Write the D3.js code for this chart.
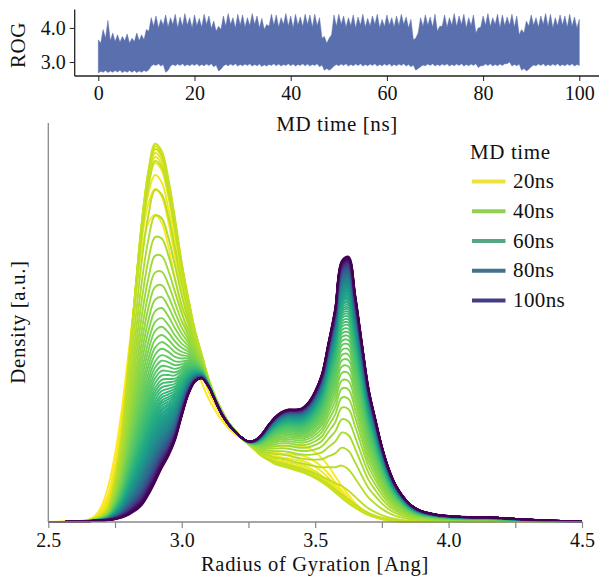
<!DOCTYPE html>
<html><head><meta charset="utf-8">
<script src="https://cdn.jsdelivr.net/npm/d3@7"></script>
<style>
body{margin:0;background:#fff}
svg{display:block}
</style>
</head><body>
<svg id="chart" width="599" height="576"></svg>
<script>
// ---------- top panel: ROG time series ----------
// per ns: spike tips (rogMax), top of the dense band half a ns later (rogCore), lower edge (rogMin)
const rogTimes = [0,1,2,3,4,5,6,7,8,9,10,11,12,13,14,15,16,17,18,19,20,21,22,23,24,25,26,27,28,29,30,31,32,33,34,35,36,37,38,39,40,41,42,43,44,45,46,47,48,49,50,51,52,53,54,55,56,57,58,59,60,61,62,63,64,65,66,67,68,69,70,71,72,73,74,75,76,77,78,79,80,81,82,83,84,85,86,87,88,89,90,91,92,93,94,95,96,97,98,99,100];
const rogMax = [3.65,3.95,4.22,3.85,3.80,3.75,3.82,3.70,3.85,3.80,3.95,4.30,4.35,4.25,4.38,4.30,4.40,4.32,4.42,4.30,4.38,4.28,4.40,4.35,4.20,4.05,4.35,4.42,4.30,4.40,4.38,4.30,4.42,4.35,4.28,4.10,4.40,4.38,4.30,4.42,4.35,4.40,4.32,4.40,4.38,4.40,4.30,3.75,3.70,4.38,4.40,4.35,4.30,4.38,4.32,4.40,4.28,4.35,4.40,4.25,4.38,4.30,4.35,4.40,4.32,4.25,3.70,4.30,4.38,4.32,4.40,4.05,4.38,4.30,4.42,4.35,4.40,4.30,4.38,4.00,4.35,4.42,4.30,4.40,4.38,4.32,4.40,4.35,3.95,4.20,4.38,4.30,4.35,4.42,4.40,4.30,4.38,4.35,4.40,4.32,4.25];
const rogCore = [3.55,3.70,3.62,3.60,3.58,3.62,3.55,3.60,3.62,3.65,3.90,4.05,4.00,4.08,4.02,4.10,4.00,4.05,4.08,4.00,4.06,4.02,4.10,3.98,3.90,3.95,4.05,4.10,4.00,4.08,4.02,4.06,4.10,4.00,3.95,4.05,4.08,4.02,4.10,4.05,4.00,4.08,4.04,4.10,4.02,4.06,3.70,3.55,3.80,4.05,4.10,4.02,4.06,4.00,4.08,4.02,4.05,4.10,4.00,4.04,4.08,4.02,4.06,4.10,4.00,3.65,3.85,4.04,4.08,4.02,3.90,4.05,4.02,4.08,4.04,4.10,4.00,4.06,3.85,4.02,4.08,4.04,4.10,4.00,4.06,4.08,4.02,3.80,3.85,4.05,4.08,4.02,4.10,4.04,4.00,4.06,4.08,4.02,4.05,4.00,4.10];
const rogMin = [2.68,2.70,2.69,2.70,2.71,2.69,2.70,2.70,2.69,2.70,2.72,2.88,2.90,2.88,2.70,2.88,2.89,2.90,2.88,2.89,2.90,2.88,2.89,2.90,2.86,2.74,2.88,2.89,2.90,2.88,2.89,2.90,2.88,2.89,2.87,2.88,2.90,2.89,2.88,2.90,2.89,2.88,2.90,2.89,2.88,2.90,2.86,2.76,2.76,2.88,2.89,2.90,2.88,2.89,2.90,2.88,2.89,2.90,2.88,2.89,2.90,2.88,2.89,2.90,2.88,2.86,2.76,2.86,2.89,2.90,2.88,2.89,2.90,2.88,2.89,2.90,2.88,2.89,2.90,2.84,2.89,2.90,2.88,2.89,2.90,2.95,2.88,2.89,2.76,2.74,2.86,2.89,2.90,2.88,2.89,2.90,2.88,2.89,2.90,2.88,2.90];
const timeTicks = [0,20,40,60,80,100];
const rogTicks = [3.0,4.0];

// ---------- bottom panel: cumulative density curves ----------
const rogGrid = [2.50,2.55,2.60,2.625,2.65,2.675,2.70,2.725,2.75,2.775,2.80,2.825,2.85,2.875,2.90,2.925,2.95,2.975,3.00,3.025,3.05,3.075,3.10,3.125,3.15,3.175,3.20,3.225,3.25,3.275,3.30,3.325,3.35,3.375,3.40,3.425,3.45,3.475,3.50,3.525,3.55,3.575,3.60,3.625,3.65,3.675,3.70,3.725,3.75,3.775,3.80,3.825,3.85,3.875,3.90,3.95,4.00,4.05,4.10,4.15,4.20,4.30,4.40,4.50];
// density curve after 1 ns
const densityFirst = [0,0.001,0.002,0.003,0.006,0.015,0.04,0.09,0.17,0.28,0.42,0.56,0.68,0.75,0.77,0.75,0.69,0.61,0.53,0.46,0.40,0.35,0.31,0.28,0.255,0.235,0.22,0.21,0.20,0.195,0.19,0.19,0.19,0.19,0.19,0.19,0.19,0.185,0.175,0.16,0.14,0.115,0.09,0.068,0.048,0.032,0.02,0.012,0.007,0.004,0.002,0.001,0,0,0,0,0,0,0,0,0,0,0,0];
// density curve with the tallest first mode (9 ns)
const densityPeak = [0,0,0.001,0.002,0.004,0.008,0.015,0.035,0.10,0.21,0.38,0.57,0.75,0.88,0.948,0.93,0.86,0.76,0.65,0.56,0.48,0.42,0.36,0.315,0.28,0.25,0.23,0.21,0.195,0.18,0.165,0.155,0.145,0.14,0.135,0.13,0.125,0.118,0.11,0.10,0.088,0.074,0.06,0.047,0.036,0.026,0.018,0.012,0.008,0.005,0.003,0.002,0.001,0,0,0,0,0,0,0,0,0,0,0];
// density curve after 100 ns
const densityLast = [0,0,0.001,0.001,0.002,0.003,0.004,0.005,0.007,0.011,0.018,0.028,0.042,0.068,0.10,0.135,0.165,0.205,0.265,0.32,0.352,0.36,0.34,0.305,0.27,0.245,0.226,0.211,0.202,0.205,0.22,0.243,0.263,0.276,0.282,0.282,0.285,0.30,0.328,0.37,0.45,0.535,0.655,0.665,0.57,0.45,0.335,0.26,0.19,0.135,0.095,0.068,0.048,0.035,0.027,0.019,0.015,0.013,0.012,0.012,0.010,0.006,0.003,0.001];
const curveTimes = [1,2,3,4,5,6,7,8,9,10,11,12,13,14,15,16,17,18,19,20,21,22,23,24,25,26,27,28,29,30,31,32,33,34,35,36,37,38,39,40,41,42,43,44,45,46,47,48,49,50,51,52,53,54,55,56,57,58,59,60,61,62,63,64,65,66,67,68,69,70,71,72,73,74,75,76,77,78,79,80,81,82,83,84,85,86,87,88,89,90,91,92,93,94,95,96,97,98,99,100];
// density at ROG = 2.9 for each curve
const modeHeights = [0.77,0.835,0.87,0.90,0.915,0.925,0.935,0.942,0.948,0.935,0.905,0.832,0.768,0.714,0.667,0.625,0.589,0.557,0.528,0.501,0.478,0.456,0.437,0.419,0.402,0.387,0.373,0.360,0.348,0.336,0.326,0.316,0.306,0.297,0.289,0.281,0.274,0.267,0.260,0.254,0.247,0.242,0.236,0.231,0.226,0.221,0.217,0.212,0.208,0.204,0.200,0.196,0.193,0.189,0.186,0.183,0.180,0.177,0.174,0.171,0.168,0.166,0.163,0.161,0.158,0.156,0.154,0.151,0.149,0.147,0.145,0.143,0.141,0.140,0.138,0.136,0.134,0.133,0.131,0.130,0.128,0.127,0.125,0.124,0.122,0.121,0.120,0.118,0.117,0.116,0.115,0.113,0.112,0.111,0.110,0.109,0.108,0.107,0.103,0.100];
const peakCurveTime = 9;
const xTicks = [2.5,2.75,3.0,3.25,3.5,3.75,4.0,4.25,4.5];
const xTickLabels = [2.5,3.0,3.5,4.0,4.5];
const legendLabels = ["20ns","40ns","60ns","80ns","100ns"];
const legendColors = ["#ebe33c","#92d050","#55a784","#42728b","#433d84"];

// pick the first serif face that is really installed
function pickFont(cands){
  const ctx = document.createElement("canvas").getContext("2d");
  const probe = "MD time Radius of Gyration 0123456789";
  ctx.font = "40px monospace"; const wm = ctx.measureText(probe).width;
  ctx.font = "40px sans-serif"; const ws = ctx.measureText(probe).width;
  for (const f of cands){
    ctx.font = `40px "${f}", monospace`; const a = ctx.measureText(probe).width;
    ctx.font = `40px "${f}", sans-serif`; const b = ctx.measureText(probe).width;
    if (Math.abs(a-wm) > 0.5 && Math.abs(a-b) < 0.5) return `"${f}", serif`;
  }
  return "serif";
}
const FONT = pickFont(["Liberation Serif","DejaVu Serif","Times New Roman","Noto Serif"]);
const svg = d3.select("#chart").attr("font-family", FONT);

// ======= top panel =======
const xT = d3.scaleLinear().domain([0,100]).range([98.3,579.3]);
const yT = d3.scaleLinear().domain([2.59,4.54]).range([76,9.5]);
const topG = svg.append("g");
const rogData = [];
rogTimes.forEach((t,i)=>{
  rogData.push({t, lo:rogMin[i], hi:rogMax[i]});
  if (i < rogTimes.length-1) rogData.push({t:t+0.5, lo:rogMin[i]+0.05, hi:rogCore[i]});
});
topG.append("path").datum(rogData)
  .attr("fill","#5a6fad").attr("stroke","#5a6fad").attr("stroke-width",0.5)
  .attr("d", d3.area().x(d=>xT(d.t)).y0(d=>yT(d.lo)).y1(d=>yT(d.hi)));

const axTX = topG.append("g").attr("transform","translate(0,76)")
  .call(d3.axisBottom(xT).tickValues(timeTicks).tickFormat(d3.format("d")).tickSize(5).tickPadding(5));
const axTY = topG.append("g").attr("transform","translate(74.7,0)")
  .call(d3.axisLeft(yT).tickValues(rogTicks).tickFormat(d3.format(".1f")).tickSize(5).tickPadding(4));
[axTX,axTY].forEach(a=>{
  a.attr("font-family",FONT);
  a.select(".domain").remove();
  a.selectAll("line").attr("stroke","#222").attr("stroke-width",1);
  a.selectAll("text").attr("font-size",20).attr("fill","#111");
});
topG.append("line").attr("x1",74.7).attr("x2",74.7).attr("y1",9.5).attr("y2",76).attr("stroke","#222").attr("stroke-width",1.3);
topG.append("line").attr("x1",74.7).attr("x2",599).attr("y1",76).attr("y2",76).attr("stroke","#222").attr("stroke-width",1.3);
topG.append("text").attr("x",337).attr("y",131).attr("text-anchor","middle").attr("font-size",21).attr("letter-spacing","0.6px").attr("fill","#111").text("MD time [ns]");
topG.append("text").attr("transform","translate(25,45) rotate(-90)").attr("text-anchor","middle").attr("font-size",21).attr("letter-spacing","0.6px").attr("fill","#111").text("ROG");

// ======= bottom panel =======
const xB = d3.scaleLinear().domain([2.5,4.5]).range([48.3,582]);
const yB = d3.scaleLinear().domain([0,1]).range([522,123]);
const botG = svg.append("g");

const iMode = rogGrid.indexOf(2.90);
const eFirst = densityFirst[iMode], ePeak = densityPeak[iMode], eLast = densityLast[iMode];
const curves = curveTimes.map((t,k)=>{
  const h = modeHeights[k];
  let vals;
  if (t <= peakCurveTime) {
    const u = Math.max(0,Math.min(1,(h-eFirst)/(ePeak-eFirst)));
    vals = rogGrid.map((x,i)=>(1-u)*densityFirst[i] + u*densityPeak[i]);
  } else {
    const u = Math.max(0,Math.min(1,(ePeak-h)/(ePeak-eLast)));
    vals = rogGrid.map((x,i)=>(1-u)*densityPeak[i] + u*densityLast[i]);
  }
  return {t, pts: rogGrid.map((x,i)=>[x, Math.max(0,vals[i])])};
});
const color = t => d3.interpolateViridis(1 - (t-1)/99);
const line = d3.line().x(d=>xB(d[0])).y(d=>yB(Math.max(0,d[1]))).curve(d3.curveCatmullRom.alpha(0.5));
botG.append("g").selectAll("path").data(curves).join("path")
  .attr("fill","none").attr("stroke",d=>color(d.t)).attr("stroke-width",1.9)
  .attr("stroke-linejoin","round")
  .attr("d",d=>line(d.pts));

const axB = botG.append("g").attr("transform","translate(0,522)")
  .call(d3.axisBottom(xB).tickValues(xTicks).tickSize(6).tickPadding(5)
    .tickFormat(d=> xTickLabels.includes(d) ? d3.format(".1f")(d) : ""));
axB.attr("font-family",FONT);
axB.select(".domain").remove();
axB.selectAll("line").attr("stroke","#888").attr("stroke-width",1.2);
axB.selectAll("text").attr("font-size",20).attr("fill","#111");
botG.append("line").attr("x1",48.3).attr("x2",48.3).attr("y1",123).attr("y2",522).attr("stroke","#888").attr("stroke-width",1.3);
botG.append("line").attr("x1",48.3).attr("x2",582.6).attr("y1",522).attr("y2",522).attr("stroke","#888").attr("stroke-width",1.3);
botG.append("text").attr("x",315).attr("y",571).attr("text-anchor","middle").attr("font-size",20.5).attr("letter-spacing","0.7px").attr("fill","#111").text("Radius of Gyration [Ang]");
botG.append("text").attr("transform","translate(25,322) rotate(-90)").attr("text-anchor","middle").attr("font-size",21).attr("letter-spacing","0.6px").attr("fill","#111").text("Density [a.u.]");

// legend
const leg = botG.append("g");
leg.append("text").attr("x",470).attr("y",159).attr("font-size",21).attr("letter-spacing","0.6px").attr("fill","#111").text("MD time");
const legY = d3.scalePoint().domain(legendLabels).range([181.5,300.5]);
legendLabels.forEach((lab,i)=>{
  const y = legY(lab);
  leg.append("line").attr("x1",472).attr("x2",505.5).attr("y1",y).attr("y2",y).attr("stroke",legendColors[i]).attr("stroke-width",4);
  leg.append("text").attr("x",513).attr("y",y+6.5).attr("font-size",21).attr("letter-spacing","0.4px").attr("fill","#111").text(lab);
});
</script>
</body></html>
